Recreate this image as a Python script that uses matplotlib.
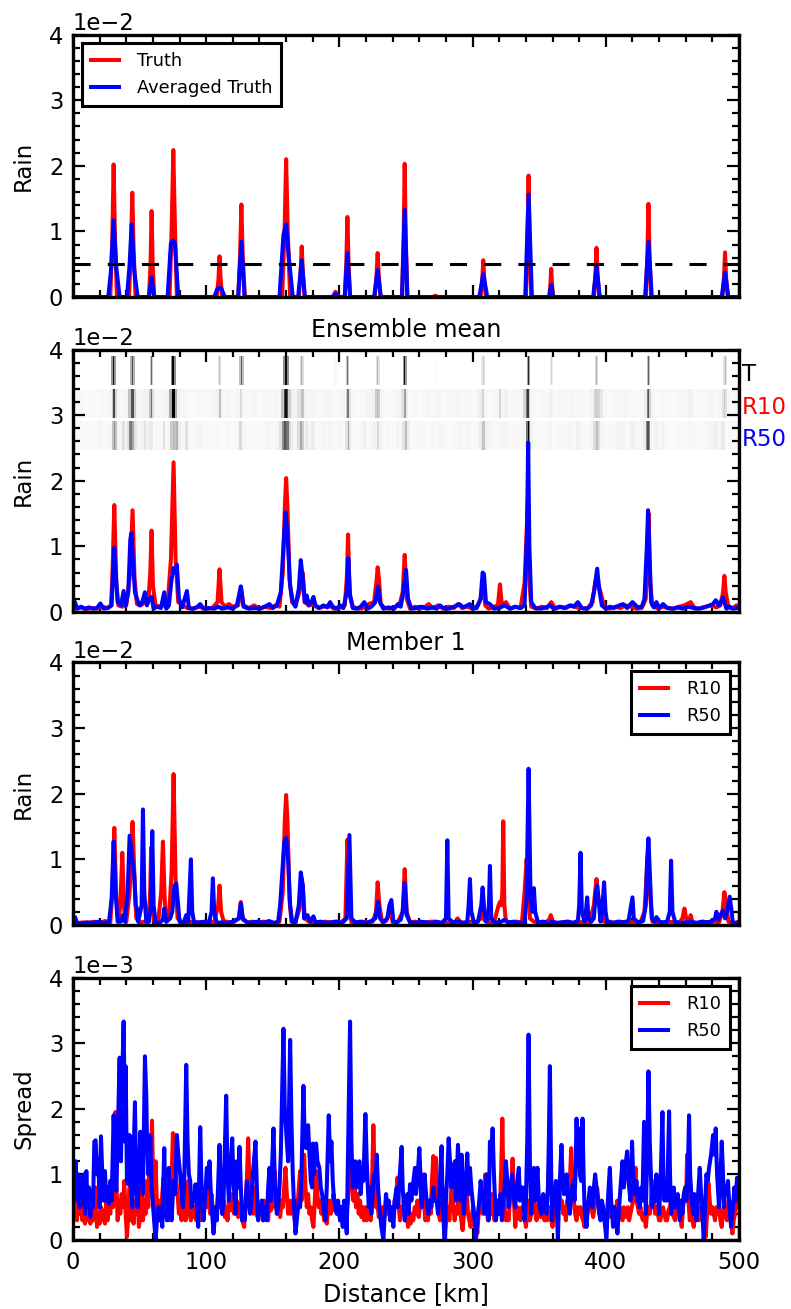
import numpy as np
import matplotlib
matplotlib.use('Agg')
import matplotlib.pyplot as plt
from matplotlib.ticker import MultipleLocator
from matplotlib.colors import PowerNorm

# ---- data (distance km, value) ; rain in units of 1e-2, spread in 1e-3 ----
threshold = 0.5

truth = [
    (0, 0),
    (28, 0), (29.5, 0.9), (30.5, 2.02), (31.5, 0.9), (33, 0),
    (42, 0), (43.5, 0.72), (44.5, 1.59), (45.5, 0.72), (47, 0),
    (57, 0), (58.2, 0.5), (59, 1.31), (59.8, 0.5), (61, 0),
    (72.5, 0), (74, 1.0), (75.3, 2.24), (76.6, 1.0), (78, 0),
    (108, 0), (109.2, 0.28), (110, 0.62), (110.8, 0.28), (112, 0),
    (124, 0), (125.4, 0.63), (126.4, 1.41), (127.4, 0.63), (129, 0),
    (157, 0), (158.8, 1.0), (160, 2.10), (161.2, 1.0), (163, 0),
    (169.5, 0), (170.8, 0.35), (171.7, 0.77), (172.6, 0.35), (174, 0),
    (195, 0), (196, 0.04), (197, 0.08), (198, 0.04), (199, 0),
    (204, 0), (205.2, 0.55), (206, 1.22), (206.8, 0.55), (208, 0),
    (226.5, 0), (227.8, 0.3), (228.7, 0.67), (229.6, 0.3), (231, 0),
    (247, 0), (248.2, 0.9), (249, 2.03), (249.8, 0.9), (251, 0),
    (270, 0), (272, 0.02), (274, 0),
    (306, 0), (307.2, 0.25), (308, 0.56), (308.8, 0.25), (310, 0),
    (340, 0), (341.2, 0.82), (342, 1.85), (342.8, 0.82), (344, 0),
    (357.5, 0), (358.4, 0.2), (359, 0.43), (359.6, 0.2), (360.5, 0),
    (391, 0), (392.2, 0.35), (393, 0.75), (393.8, 0.35), (395, 0),
    (430, 0), (431.2, 0.65), (432, 1.42), (432.8, 0.65), (434, 0),
    (487.5, 0), (488.7, 0.3), (489.5, 0.68), (490.3, 0.3), (491.5, 0),
    (500, 0)]

avg_truth = [
    (0, 0),
    (26.5, 0), (28.5, 0.4), (30.5, 1.17), (32.5, 0.45), (35, 0),
    (40.5, 0), (42.5, 0.5), (44, 1.11), (46, 0.4), (48.5, 0),
    (57, 0), (59, 0.30), (61, 0),
    (71, 0), (73.5, 0.82), (75, 0.86), (76.5, 0.82), (79, 0),
    (106, 0), (108.5, 0.13), (110, 0.14), (111.5, 0.12), (114, 0),
    (124, 0), (126.4, 0.84), (128.8, 0),
    (155, 0), (158, 0.95), (160, 1.11), (162, 0.6), (165, 0),
    (169, 0), (171.7, 0.56), (174, 0),
    (195, 0), (197, 0.05), (199, 0),
    (204, 0), (206, 0.67), (208, 0),
    (226, 0), (228.7, 0.41), (231, 0),
    (247, 0), (249, 1.33), (251, 0),
    (305, 0), (308, 0.35), (311, 0),
    (339.5, 0), (342, 1.56), (344.5, 0),
    (357.5, 0), (359, 0.18), (360.5, 0),
    (390.5, 0), (393, 0.46), (395.5, 0),
    (429.5, 0), (432, 0.84), (434.5, 0),
    (487, 0), (489.5, 0.37), (492, 0),
    (500, 0)]

mean_r10 = [
    (0, 0.08), (3, 0.05), (6, 0.07), (10, 0.04), (14, 0.06), (18, 0.05), (22, 0.08), (26, 0.06), (28.5, 0.1),
    (29.5, 0.5), (31, 1.63), (32.5, 0.45), (34, 0.1), (37, 0.08), (40, 0.1),
    (43, 0.6), (44.7, 1.55), (46.2, 0.5), (48, 0.12), (51, 0.1), (54, 0.15), (56.5, 0.15),
    (58, 0.6), (59, 1.24), (60, 0.4), (62, 0.1), (65, 0.08), (68, 0.1), (71, 0.12), (73.5, 0.8),
    (75.5, 2.28), (77, 0.8), (79, 0.15), (82, 0.1), (86, 0.06), (90, 0.05), (94, 0.08), (98, 0.06),
    (102, 0.05), (105, 0.07), (108.5, 0.15), (110, 0.65), (111.5, 0.15), (114, 0.08), (117, 0.12),
    (120, 0.08), (124, 0.1), (126, 0.38), (128, 0.1), (132, 0.06), (136, 0.1), (140, 0.05), (144, 0.08),
    (148, 0.06), (152, 0.1), (155, 0.08), (157.5, 0.6), (159, 1.6), (160, 2.04), (161, 1.6), (162.5, 0.5),
    (164.5, 0.15), (167, 0.1), (170, 0.3), (172.5, 0.6), (174, 0.15), (177, 0.1), (180, 0.12), (184, 0.06),
    (188, 0.08), (192, 0.1), (196, 0.05), (200, 0.06), (204, 0.1), (205.5, 0.5), (206.5, 1.18), (207.5, 0.3),
    (210, 0.08), (214, 0.05), (218, 0.06), (222, 0.12), (226, 0.15), (228, 0.5), (228.7, 0.68), (229.7, 0.5),
    (231, 0.12), (234, 0.06), (238, 0.05), (242, 0.08), (245, 0.1), (247.5, 0.3), (249, 0.87), (250.5, 0.2),
    (253, 0.05), (257, 0.08), (260, 0.05), (264, 0.07), (267, 0.12), (270, 0.06), (274, 0.1), (278, 0.05),
    (282, 0.08), (286, 0.06), (289, 0.12), (292, 0.06), (296, 0.08), (300, 0.05), (304, 0.1), (306, 0.2),
    (308, 0.45), (309.5, 0.1), (312, 0.05), (316, 0.08), (319, 0.1), (320.5, 0.42), (322, 0.1), (325, 0.15),
    (328, 0.05), (332, 0.08), (336, 0.06), (339, 0.45), (340.5, 1.2), (341.5, 1.7), (342.5, 0.5), (344, 0.08),
    (348, 0.05), (352, 0.08), (356, 0.06), (359, 0.15), (362, 0.05), (366, 0.08), (370, 0.06), (374, 0.1),
    (378, 0.07), (382, 0.06), (386, 0.05), (390, 0.15), (392, 0.45), (393, 0.55), (394, 0.45), (396.7, 0.25),
    (399, 0.07), (403, 0.05), (407, 0.08), (411, 0.06), (415, 0.1), (419, 0.08), (423, 0.05), (427, 0.06),
    (430, 0.2), (431.5, 1.1), (432.2, 1.5), (433, 0.5), (435, 0.1), (439, 0.05), (443, 0.08), (447, 0.06),
    (451, 0.05), (455, 0.08), (459, 0.1), (463.7, 0.15), (467, 0.05), (471, 0.06), (475, 0.08), (479, 0.1),
    (483, 0.07), (486, 0.1), (488, 0.3), (489, 0.55), (490, 0.3), (492, 0.08), (495, 0.05), (498, 0.1),
    (500, 0.06)]

mean_r50 = [
    (0, 0.17), (1.5, 0.15), (3, 0.05), (6, 0.08), (9, 0.05), (12, 0.07), (15, 0.05), (18, 0.06), (20.5, 0.13),
    (23, 0.05), (26, 0.06), (29, 0.1), (30, 0.6), (31, 0.98), (32, 0.6), (33.5, 0.15), (36, 0.1), (38, 0.32),
    (39.5, 0.1), (41.5, 0.3), (43, 1.1), (43.8, 1.2), (45, 0.8), (46.5, 0.3), (48, 0.2), (50, 0.1), (52, 0.15),
    (54, 0.3), (55.5, 0.1), (57, 0.2), (59, 0.23), (60.5, 0.05), (63, 0.08), (66, 0.06), (68.5, 0.3), (70, 0.05),
    (72, 0.1), (74, 0.5), (75.5, 0.67), (76.5, 0.6), (78, 0.72), (79.5, 0.2), (82, 0.07), (85.5, 0.32), (87, 0.06),
    (90, 0.05), (93, 0.07), (95.5, 0.12), (98, 0.05), (102, 0.06), (106, 0.05), (109, 0.08), (112, 0.05),
    (116, 0.07), (120, 0.05), (123, 0.1), (126, 0.39), (128, 0.08), (132, 0.05), (136, 0.06), (140, 0.05),
    (144, 0.08), (147.5, 0.12), (150, 0.06), (153, 0.1), (156, 0.3), (158, 1.0), (159.5, 1.52), (161, 1.2),
    (163, 0.4), (165, 0.15), (167, 0.08), (169.5, 0.35), (171, 0.79), (172.5, 0.5), (174, 0.15), (175.5, 0.25),
    (177, 0.1), (179, 0.15), (180.5, 0.23), (182, 0.1), (185, 0.06), (188, 0.1), (191, 0.07), (193, 0.15),
    (195, 0.08), (198, 0.05), (200.5, 0.1), (203, 0.06), (205.5, 0.3), (206.7, 0.82), (208, 0.25), (210, 0.06),
    (213, 0.05), (216, 0.08), (218.7, 0.15), (221, 0.05), (224, 0.08), (227, 0.15), (229, 0.39), (230.5, 0.15),
    (233, 0.05), (237, 0.07), (241, 0.05), (244, 0.12), (246, 0.08), (248, 0.3), (250, 0.64), (251.5, 0.2),
    (254, 0.05), (258, 0.06), (262, 0.08), (266, 0.05), (270, 0.07), (273, 0.05), (275.5, 0.1), (278, 0.06),
    (282, 0.05), (286, 0.08), (290, 0.12), (293, 0.07), (296, 0.1), (298, 0.12), (300, 0.05), (303, 0.06),
    (306, 0.2), (307.5, 0.6), (308.5, 0.58), (310, 0.15), (313, 0.12), (316, 0.05), (320, 0.06), (324, 0.1),
    (328, 0.05), (332, 0.08), (336, 0.06), (339, 0.1), (340.8, 1.2), (341.7, 2.58), (342.6, 1.0), (344, 0.15),
    (347, 0.06), (351, 0.05), (355, 0.07), (358, 0.1), (361, 0.05), (365, 0.08), (369, 0.06), (373, 0.1),
    (376, 0.08), (379, 0.15), (382, 0.06), (386, 0.05), (389, 0.1), (391.5, 0.35), (393.5, 0.66), (395, 0.35),
    (397, 0.1), (400, 0.05), (403, 0.08), (406, 0.06), (410, 0.1), (413, 0.12), (416, 0.06), (420, 0.15),
    (424, 0.07), (427, 0.08), (429, 0.2), (430.8, 1.0), (431.7, 1.55), (432.6, 1.0), (434, 0.15), (436, 0.07),
    (438, 0.15), (440, 0.06), (443, 0.12), (446, 0.06), (450, 0.05), (454, 0.07), (458, 0.05), (462, 0.08),
    (466, 0.06), (470, 0.05), (474, 0.07), (478, 0.1), (480.5, 0.12), (482.5, 0.18), (485, 0.1), (488, 0.22),
    (490.5, 0.05), (493, 0.08), (496, 0.05), (500, 0.07)]

mem_r10 = [
    (0, 0.05), (4, 0.03), (8, 0.04), (12, 0.03), (16, 0.05), (20, 0.03), (24, 0.06), (28, 0.04), (29.5, 0.5),
    (31, 1.48), (32.5, 0.4), (34, 0.05), (35.5, 0.3), (37, 1.1), (38.5, 0.2), (40, 0.05), (42.5, 0.5),
    (44.7, 1.57), (46, 0.8), (47.5, 0.1), (50, 0.03), (53, 0.05), (56, 0.04), (57.8, 0.4), (58.7, 1.18),
    (59.6, 0.3), (61, 0.05), (64, 0.06), (66.2, 0.5), (67.5, 1.27), (68.8, 0.4), (70, 0.05), (72, 0.1),
    (74, 0.8), (75.5, 2.3), (77, 0.7), (78.5, 0.1), (82, 0.04), (86, 0.03), (90, 0.05), (94, 0.04), (98, 0.03),
    (102, 0.05), (106, 0.04), (109, 0.3), (110, 0.6), (111.2, 0.2), (113, 0.06), (117, 0.04), (121, 0.05),
    (124.5, 0.1), (126, 0.35), (127.5, 0.08), (131, 0.04), (135, 0.05), (139, 0.03), (143, 0.05), (147, 0.04),
    (151, 0.03), (155, 0.05), (157.5, 0.5), (159, 1.6), (160, 1.98), (161, 1.6), (162.5, 0.4), (164, 0.05),
    (167, 0.04), (170, 0.25), (171.5, 0.7), (172.5, 0.6), (174, 0.1), (177, 0.05), (181, 0.04), (185, 0.03),
    (189, 0.05), (193, 0.04), (197, 0.05), (201, 0.03), (204.5, 0.1), (205.5, 0.9), (206, 1.3), (207, 0.3),
    (209, 0.04), (213, 0.03), (217, 0.05), (221, 0.04), (225, 0.05), (227.5, 0.2), (228.7, 0.65), (230, 0.3),
    (232, 0.05), (235, 0.06), (238, 0.22), (240, 0.04), (244, 0.05), (247.5, 0.2), (249, 0.85), (250.5, 0.2),
    (253, 0.04), (257, 0.05), (261, 0.03), (265, 0.04), (269, 0.05), (271.7, 0.05), (275, 0.03), (279, 0.04),
    (283, 0.03), (287, 0.05), (288.7, 0.1), (291, 0.04), (295, 0.03), (299, 0.05), (303, 0.04), (306, 0.1),
    (307, 0.3), (308.5, 0.08), (312, 0.04), (316, 0.03), (319.5, 0.3), (320.5, 0.35), (321.5, 0.3),
    (322.3, 0.5), (323, 1.58), (323.8, 0.3), (325, 0.05), (329, 0.04), (333, 0.05), (337, 0.04), (339, 0.5),
    (340.5, 1.0), (341.5, 0.8), (343, 0.1), (346, 0.05), (350, 0.04), (354, 0.03), (357.5, 0.08),
    (358.7, 0.15), (360, 0.05), (364, 0.03), (368, 0.04), (372, 0.05), (376, 0.03), (380, 0.04), (384, 0.05),
    (388, 0.04), (391, 0.3), (393, 0.7), (394.5, 0.4), (396.7, 0.2), (398.5, 0.05), (403, 0.05), (407, 0.03),
    (410.5, 0.05), (414, 0.04), (418, 0.03), (422, 0.05), (426, 0.04), (429, 0.2), (431, 0.9), (432, 1.1),
    (433, 0.5), (435, 0.05), (439, 0.04), (443, 0.03), (447, 0.05), (451, 0.04), (455, 0.03), (457.5, 0.1),
    (459, 0.25), (460.5, 0.08), (462.5, 0.05), (463.7, 0.15), (465, 0.04), (469, 0.03), (473, 0.05),
    (477, 0.04), (481, 0.05), (485, 0.04), (487.5, 0.2), (489, 0.5), (490.5, 0.3), (492, 0.05), (496, 0.03),
    (500, 0.05)]

mem_r50 = [
    (0, 0.02), (1.5, 0.12), (3, 0.03), (7, 0.02), (11, 0.04), (15, 0.03), (19, 0.05), (23, 0.03), (27, 0.04),
    (29, 0.4), (30.5, 1.27), (32, 0.5), (33.5, 0.05), (36, 0.05), (37.5, 0.15), (39, 0.05), (41, 0.5),
    (42.5, 1.36), (44, 1.1), (46, 0.75), (47, 0.3), (48, 0.25), (49, 0.05), (51.5, 0.3), (52.5, 1.76),
    (53.5, 0.5), (55, 0.05), (57, 0.05), (58.5, 0.3), (59.5, 1.43), (60.5, 0.3), (62, 0.04), (65, 0.03),
    (67.5, 0.08), (68.5, 0.25), (70, 0.05), (73, 0.1), (74.5, 0.2), (76.2, 0.6), (77.5, 0.63), (78.5, 0.4),
    (80, 0.05), (83, 0.03), (85, 0.15), (86.5, 0.05), (88.5, 1.0), (89.5, 0.2), (91, 0.03), (95, 0.04),
    (99, 0.05), (102, 0.03), (104, 0.2), (105, 0.71), (106, 0.2), (108, 0.03), (112, 0.04), (116, 0.03),
    (120, 0.05), (124.5, 0.1), (126, 0.33), (127.5, 0.1), (131, 0.03), (135, 0.04), (139, 0.05), (143, 0.03),
    (147, 0.06), (151, 0.03), (154, 0.05), (155.5, 0.3), (156.8, 0.7), (158.5, 1.25), (160, 1.33),
    (161.5, 1.0), (163, 0.3), (164.5, 0.05), (167, 0.04), (169.5, 0.3), (171, 0.8), (172.5, 0.6),
    (173.5, 0.1), (176, 0.15), (178, 0.05), (180.5, 0.13), (182, 0.04), (186, 0.05), (190, 0.03), (194, 0.04),
    (198, 0.05), (202, 0.03), (205.5, 0.1), (207.5, 1.37), (209, 0.1), (212, 0.04), (216, 0.05), (220, 0.03),
    (224, 0.06), (227, 0.1), (229, 0.35), (230.5, 0.1), (233, 0.04), (236, 0.1), (237.5, 0.3), (239, 0.38),
    (240.5, 0.05), (243, 0.04), (246, 0.08), (247.5, 0.2), (249, 0.64), (250.5, 0.15), (253, 0.04),
    (257, 0.03), (261, 0.05), (265, 0.04), (269, 0.03), (273, 0.05), (277, 0.03), (280, 0.1), (281, 1.29),
    (282, 0.1), (285, 0.04), (289, 0.05), (293, 0.03), (296, 0.05), (297, 0.3), (298, 0.7), (299, 0.2),
    (301, 0.04), (304, 0.05), (306.5, 0.3), (307.5, 0.57), (308.5, 0.3), (310, 0.05), (312, 0.1), (313, 0.9),
    (314, 0.1), (316, 0.05), (320, 0.03), (324, 0.08), (327, 0.04), (331, 0.05), (335, 0.03), (339, 0.04),
    (340.5, 0.4), (342, 2.38), (343.5, 0.4), (345, 0.2), (346, 0.56), (347, 0.2), (349, 0.04), (353, 0.05),
    (357, 0.03), (359, 0.05), (363, 0.03), (367, 0.04), (371, 0.05), (375, 0.03), (379, 0.06), (380, 0.3),
    (381, 1.1), (382, 0.2), (384, 0.05), (385, 0.2), (386, 0.42), (387, 0.1), (389, 0.05), (391, 0.1),
    (392.5, 0.5), (393.5, 0.6), (394.5, 0.4), (396, 0.05), (397.5, 0.3), (398.7, 0.65), (399.8, 0.2),
    (401, 0.05), (405, 0.03), (409, 0.05), (413, 0.04), (417, 0.06), (419, 0.3), (420, 0.42), (421, 0.1),
    (424, 0.04), (428, 0.06), (430, 0.3), (431, 1.0), (432, 1.32), (433, 0.8), (434.5, 0.1), (436.5, 0.05),
    (438, 0.12), (440, 0.05), (443, 0.04), (446, 0.05), (448, 0.2), (449, 0.98), (450, 0.2), (452, 0.05),
    (456, 0.03), (460, 0.04), (464, 0.05), (468, 0.03), (472, 0.05), (476, 0.04), (480, 0.06), (482, 0.1),
    (483, 0.2), (484.5, 0.08), (486, 0.15), (488, 0.22), (489.5, 0.1), (491, 0.2), (493, 0.43), (494.5, 0.2),
    (495.5, 0.0), (498, 0.03), (500, 0.04)]

spread_r10 = [
    (0, 0.55), (1, 0.35), (2, 0.6), (3, 0.3), (4, 0.65), (5, 0.4), (6, 0.55), (7, 0.3), (8, 0.45), (9, 0.25),
    (10, 0.5), (11, 0.3), (12, 0.45), (13, 0.25), (14, 0.4), (15, 0.3), (16, 0.55), (17, 0.8), (18, 0.2),
    (19, 0.4), (20, 0.25), (21, 0.5), (22, 0.3), (23, 0.45), (24, 0.25), (25, 0.6), (26, 0.3), (27, 0.55),
    (28, 0.4), (29, 0.92), (30, 0.5), (31, 1.2), (31.8, 1.95), (32.5, 0.9), (33.5, 0.3), (34.5, 0.6),
    (35.5, 0.4), (36.5, 0.7), (37.5, 0.5), (38.5, 0.9), (39.5, 0.4), (40.5, 0.05), (41.5, 0.4), (42.5, 0.8),
    (43.5, 0.3), (44.5, 0.5), (45.5, 0.25), (46.5, 0.6), (47.5, 0.4), (48.5, 0.6), (49.5, 0.2), (50.5, 0.4),
    (51.5, 0.8), (52.5, 0.3), (53.5, 0.6), (54.5, 0.4), (55.5, 0.9), (56.5, 0.5), (57.5, 1.35), (58.3, 0.9),
    (59.3, 1.82), (60.3, 0.7), (61, 0.4), (62, 1.2), (63, 0.5), (64, 0.3), (65, 0.6), (66, 0.35), (67, 0.7),
    (68, 0.95), (69, 0.4), (70, 0.6), (71, 0.35), (72, 0.3), (73, 0.5), (74, 0.9), (75, 1.63), (75.8, 1.2),
    (76.5, 1.6), (77.5, 0.9), (78.5, 0.7), (79.5, 0.4), (80.5, 0.6), (81.5, 0.3), (82.5, 0.95), (83.5, 0.5),
    (84.5, 0.3), (85.5, 0.6), (86.5, 0.9), (87.5, 0.4), (88.5, 0.3), (89.5, 0.6), (90.5, 0.35), (91.5, 0.5),
    (92.5, 0.3), (93.5, 0.6), (94.5, 0.4), (96, 0.3), (97, 0.5), (98, 0.35), (99, 0.7), (100, 0.5), (101, 1.0),
    (102, 0.6), (103, 0.4), (104, 0.7), (105, 0.45), (106, 0.3), (107, 0.5), (108, 0.4), (109, 0.7),
    (110, 0.5), (111, 0.8), (112, 0.4), (113, 0.6), (114, 0.35), (115, 0.5), (116, 0.3), (117, 0.6),
    (118, 0.7), (119, 0.45), (120, 0.7), (121, 0.4), (122, 0.5), (123, 0.6), (124, 0.35), (125, 0.55),
    (126, 0.5), (127, 0.3), (128.5, 0.2), (129.5, 0.6), (130.5, 0.9), (131.5, 1.55), (132.5, 0.8),
    (133.5, 0.5), (134.5, 0.6), (135.5, 0.4), (136.5, 0.8), (137.5, 0.5), (138.5, 0.35), (139.5, 0.5),
    (140.5, 0.4), (141.5, 0.6), (142.5, 0.3), (143.5, 0.6), (144.5, 0.4), (145.5, 0.5), (146.5, 0.3),
    (147.5, 0.6), (148.5, 0.45), (149.5, 0.5), (150.5, 0.7), (151.5, 1.05), (152.5, 0.5), (153.5, 0.4),
    (154.5, 0.6), (155.5, 0.35), (156.5, 0.6), (157.5, 0.5), (158.5, 0.8), (159.5, 1.1), (160.5, 0.7),
    (161.5, 0.4), (162.5, 0.6), (163.5, 0.4), (164.5, 0.6), (165.5, 0.5), (166.5, 0.3), (167.5, 0.6),
    (168.5, 0.5), (169.5, 0.8), (170.5, 1.05), (171.5, 0.6), (172.5, 0.8), (173.5, 1.3), (174.5, 0.8),
    (175.5, 0.5), (176.5, 0.7), (177.5, 0.4), (178.5, 0.5), (179.5, 0.3), (180.5, 0.2), (181.5, 0.6),
    (182.5, 1.05), (183.5, 0.7), (184.5, 0.5), (185.5, 0.6), (186.5, 0.4), (187.5, 0.5), (188.5, 0.3),
    (189.5, 0.4), (190.5, 0.25), (191.5, 0.5), (192.5, 0.6), (193.5, 0.4), (194.5, 0.5), (195.5, 0.7),
    (196.5, 0.45), (197.5, 0.6), (198.5, 0.4), (199.5, 0.5), (200.5, 0.3), (201.5, 0.5), (202.5, 0.25),
    (203.5, 0.4), (204.5, 0.2), (205.5, 0.4), (206.5, 0.6), (207.5, 0.9), (208.5, 1.45), (209.5, 0.9),
    (210.5, 0.6), (211.5, 0.8), (212.5, 0.5), (213.5, 0.7), (214.5, 0.4), (215.5, 0.6), (216.5, 0.35),
    (217.5, 0.5), (218.5, 0.3), (219.5, 0.5), (220.5, 0.3), (221.5, 0.4), (222.5, 0.5), (223.5, 0.3),
    (224.5, 0.9), (225.5, 1.75), (226.5, 0.9), (227.5, 0.5), (228.5, 0.6), (229.5, 0.35), (230.5, 0.4),
    (231.5, 0.3), (232.5, 0.5), (233.5, 0.3), (234.5, 0.45), (235.5, 0.6), (236.5, 0.4), (237.5, 0.5),
    (238.5, 0.3), (239.5, 0.5), (240.5, 0.35), (241.5, 0.6), (242.5, 0.5), (243.5, 0.95), (244.5, 0.5),
    (245.5, 0.3), (246.5, 0.5), (247.5, 0.4), (248.5, 0.6), (249.5, 0.3), (250.5, 0.4), (251.5, 0.2),
    (252.5, 0.35), (253.5, 0.25), (254.5, 0.4), (255.5, 0.3), (256.5, 0.5), (257.5, 0.4), (258.5, 0.6),
    (259.5, 0.35), (260.5, 0.5), (261.5, 0.7), (262.5, 1.0), (263.5, 0.6), (264.5, 0.3), (265.5, 0.4),
    (266.5, 0.3), (267.5, 0.6), (268.5, 0.4), (269.5, 0.9), (270.5, 1.28), (271.5, 0.7), (272.5, 1.25),
    (273.5, 0.6), (274.5, 0.4), (275.5, 0.3), (276.5, 0.5), (277.5, 0.8), (278.5, 0.3), (279.3, 0.05),
    (280.5, 0.4), (281.5, 0.5), (282.5, 0.3), (283.5, 0.6), (284.5, 0.9), (285.5, 0.5), (286.5, 0.3),
    (287.5, 0.5), (288.5, 0.4), (289.5, 0.8), (290.5, 0.5), (291.5, 0.3), (292.5, 0.15), (293.5, 0.4),
    (294.5, 0.6), (295.5, 0.8), (296.5, 0.4), (297.5, 0.3), (298.5, 0.2), (299.5, 0.4), (300.5, 0.5),
    (301.5, 0.3), (302.5, 0.4), (303.5, 0.1), (304.5, 0.4), (305.5, 0.5), (306.5, 0.6), (307.5, 0.4),
    (308.5, 0.7), (309.5, 1.0), (310.5, 0.5), (311.5, 0.3), (312.5, 0.5), (313.5, 0.4), (314.5, 0.7),
    (315.5, 0.4), (316.5, 0.3), (317.5, 0.5), (318.5, 0.6), (319.5, 0.4), (320.5, 0.5), (321.5, 1.1),
    (322.3, 1.85), (323, 1.0), (324, 0.5), (325, 0.3), (326, 0.4), (327, 0.3), (328, 0.6), (329, 0.7),
    (330, 1.24), (331, 0.6), (332, 0.2), (333, 0.4), (334, 0.5), (335, 0.35), (336, 0.3), (337, 0.5),
    (338, 0.5), (339, 0.35), (340, 0.2), (341, 0.4), (342, 0.6), (343, 0.3), (344, 0.4), (345, 0.5),
    (346, 0.7), (347, 0.4), (348, 0.3), (349, 0.5), (350, 0.6), (351, 0.35), (352, 0.5), (353, 0.4),
    (354, 0.3), (355, 0.5), (356, 0.3), (357, 0.4), (358, 0.5), (359, 0.3), (360, 0.2), (361, 0.4),
    (362, 0.5), (363, 0.4), (364, 0.6), (365, 0.8), (366, 0.5), (367, 0.6), (368, 0.4), (369, 0.5),
    (370, 0.3), (371, 0.6), (372, 0.5), (373, 0.9), (374, 1.4), (375, 0.8), (376, 0.6), (377, 0.4),
    (378, 0.3), (379, 0.5), (380, 0.4), (381, 0.5), (382, 0.35), (383, 0.3), (384, 0.2), (385, 0.4),
    (386, 0.4), (387, 0.5), (388, 0.7), (389, 0.5), (390.5, 0.35), (391.5, 0.5), (392.5, 0.7), (393.5, 0.8),
    (394.5, 0.6), (395.5, 0.4), (396.5, 0.35), (397.5, 0.5), (398.5, 0.4), (399.5, 0.3), (400.5, 0.3),
    (401.5, 0.4), (402.5, 0.5), (403.5, 0.35), (404.5, 0.4), (405.5, 0.3), (406.5, 0.5), (407.5, 0.4),
    (408.5, 0.6), (409.5, 0.35), (410.5, 0.5), (411.5, 0.4), (412.5, 0.3), (413.5, 0.5), (414.5, 0.4),
    (415.5, 0.35), (416.5, 0.5), (417.5, 0.3), (418.5, 0.4), (419.5, 0.5), (420.5, 0.6), (421.5, 0.8),
    (422.3, 1.1), (423, 0.6), (424, 0.5), (425, 0.4), (426, 0.5), (427, 0.35), (428, 0.3), (429, 0.4),
    (430, 0.2), (431, 0.4), (432, 0.5), (433, 0.4), (434, 0.6), (435, 0.9), (436, 0.6), (437, 0.4),
    (438, 0.5), (439, 0.4), (440, 0.3), (441, 0.3), (442, 0.45), (443, 0.5), (444, 0.4), (445, 0.3),
    (446, 0.3), (447, 0.45), (448, 0.5), (449, 0.6), (450, 0.4), (451, 0.35), (452, 0.3), (453, 0.5),
    (454, 0.4), (455, 0.5), (456, 0.35), (457, 0.2), (458, 0.5), (459.5, 0.8), (460.3, 0.6), (461, 1.3),
    (462, 0.6), (463, 0.3), (464, 0.4), (465, 0.3), (466, 0.2), (467, 0.4), (468, 0.5), (469, 0.4),
    (470, 0.3), (471, 0.5), (472, 0.4), (473, 0.6), (474, 0.3), (475, 0.05), (476, 0.4), (477, 0.87),
    (478, 0.6), (479, 0.4), (480, 0.5), (481, 0.4), (482, 0.3), (483, 0.5), (484, 0.4), (485, 0.5),
    (486, 0.3), (487, 0.2), (488, 0.4), (489, 0.6), (490, 0.4), (491, 0.3), (492, 0.45), (493, 0.6),
    (494, 0.3), (495, 0.1), (496, 0.3), (497, 0.4), (498, 0.55), (499, 0.7), (500, 0.5)]

spread_r50 = [
    (0, 1.2), (1, 0.9), (2, 1.2), (3, 0.6), (4, 1.0), (5, 0.5), (6, 0.95), (7, 0.55), (8, 1.0), (9, 0.4),
    (10, 1.05), (11, 0.5), (12, 0.8), (13, 0.35), (14, 0.75), (15, 0.5), (16, 1.5), (17, 1.52), (18, 1.0),
    (19, 1.25), (20, 0.5), (21, 1.58), (22, 1.0), (23, 0.6), (24, 1.05), (25, 0.6), (26, 0.8), (27, 0.55),
    (28, 0.9), (29, 0.6), (30.5, 1.9), (31.5, 1.1), (32.5, 0.75), (33.5, 1.5), (35, 2.78), (36, 1.2),
    (37, 2.5), (38, 3.33), (39, 1.5), (39.5, 2.65), (40.5, 0.9), (41.5, 0.85), (42.5, 1.6), (43.5, 0.9),
    (44.5, 0.5), (46.5, 2.1), (47.5, 0.8), (48.5, 0.5), (49.5, 1.0), (50.5, 1.65), (51.5, 1.2), (52.5, 0.7),
    (54, 2.8), (55, 2.2), (55.5, 1.6), (56.5, 1.0), (58, 1.6), (59, 0.8), (60.5, 0.4), (62, 0.0), (63, 0.3),
    (64, 0.5), (65, 0.3), (66, 0.5), (67, 0.2), (68.5, 1.4), (69.5, 0.5), (70.5, 0.3), (72, 1.1), (73, 0.6),
    (74, 0.3), (75.5, 0.9), (76.5, 0.7), (78, 1.6), (79, 1.3), (80.5, 1.0), (81.5, 0.7), (82.5, 0.5),
    (83.5, 0.9), (85, 2.67), (86, 1.5), (87, 1.0), (88, 0.9), (89, 0.5), (90, 0.7), (91, 0.6), (92, 0.85),
    (93, 0.5), (94, 0.2), (95.5, 1.72), (96.5, 0.8), (98, 0.3), (99, 0.6), (100.5, 1.1), (101.5, 0.8),
    (102.5, 1.2), (103.5, 0.7), (104.5, 0.4), (105.5, 0.1), (107, 0.5), (108, 0.3), (110, 1.45), (111, 0.8),
    (112, 0.4), (113, 0.6), (115, 2.2), (116, 1.0), (117, 0.6), (118, 1.0), (119.5, 1.55), (120.5, 0.9),
    (122, 0.4), (123, 1.2), (124, 0.8), (125, 1.42), (126, 0.8), (127, 0.3), (128, 0.5), (129, 0.3),
    (130.5, 0.9), (131.5, 0.7), (133, 0.4), (134, 0.6), (135, 1.0), (137, 1.5), (138, 0.8), (139, 0.3),
    (140, 0.5), (141, 0.4), (142, 0.6), (143, 0.3), (144, 0.5), (145.5, 0.3), (146.5, 0.8), (147.5, 1.1),
    (148.5, 0.6), (150.5, 1.7), (151.5, 0.9), (153, 0.4), (154, 0.5), (155, 0.8), (156, 1.3), (158, 3.22),
    (159, 2.0), (160.5, 1.5), (161.5, 1.2), (163, 3.05), (164, 1.8), (165, 1.0), (166, 0.5), (167, 0.1),
    (168, 0.3), (169.5, 0.6), (170.5, 0.5), (171.5, 1.0), (173, 2.35), (174, 1.5), (175, 1.4), (176.5, 1.75),
    (177.5, 1.3), (178.5, 0.9), (179.5, 0.8), (180, 1.47), (181, 1.0), (182.5, 1.47), (183.5, 1.2),
    (185, 1.1), (186, 0.8), (187, 0.7), (188, 0.5), (189.5, 0.3), (190.5, 0.8), (192, 1.9), (193, 1.2),
    (194, 1.5), (195, 0.9), (196, 0.6), (197, 0.5), (198, 0.4), (199, 0.6), (200.5, 0.3), (201.5, 0.5),
    (202.5, 0.2), (203.5, 0.6), (204.5, 0.4), (205.5, 0.1), (207, 2.0), (208, 3.33), (209, 1.5), (210, 0.8),
    (211, 1.1), (212, 1.2), (213, 0.8), (214, 1.0), (215, 1.2), (216, 0.7), (217, 1.1), (218, 0.9),
    (219.5, 1.92), (220.5, 1.2), (222, 0.5), (223, 0.8), (224, 0.4), (225, 0.7), (226, 1.0), (227, 0.9),
    (228, 1.3), (229, 0.8), (230.5, 0.4), (231.5, 0.2), (233, 0.0), (234, 0.4), (235, 0.7), (236, 0.5),
    (237, 0.6), (238, 0.3), (239, 0.5), (240.5, 0.2), (241.5, 0.6), (243, 0.8), (244, 0.5), (245, 0.9),
    (246.7, 1.42), (247.5, 0.8), (249, 0.3), (250, 0.5), (251, 0.7), (252, 0.4), (253, 0.85), (254, 0.6),
    (255, 0.8), (256.7, 1.1), (257.5, 0.7), (258.5, 0.9), (260, 1.4), (261, 0.9), (261.7, 0.5), (263, 0.8),
    (264, 1.0), (265, 0.7), (266.7, 0.4), (268, 0.6), (269, 0.5), (270.5, 0.8), (271.5, 0.6), (273, 0.6),
    (274, 0.4), (275, 0.7), (276.7, 1.43), (277.5, 0.5), (279, 0.0), (280, 0.6), (281, 1.0), (282, 1.55),
    (283, 1.2), (284, 0.8), (285.5, 1.1), (286.7, 1.2), (287.5, 0.6), (289, 1.45), (290, 0.9), (291, 0.6),
    (291.7, 1.3), (292.5, 0.8), (293.5, 0.4), (294.5, 0.8), (296, 1.32), (297, 0.7), (298, 1.1), (299, 0.8),
    (300.5, 0.5), (301.5, 0.3), (302.5, 0.0), (303.5, 0.3), (305, 0.6), (306, 0.9), (307, 0.7), (308, 0.6),
    (309, 0.4), (310.5, 1.0), (311.2, 0.6), (312, 0.3), (313, 1.5), (314, 1.2), (315, 1.7), (316, 1.0),
    (317.5, 0.3), (318.5, 0.5), (319, 0.6), (320, 0.4), (321, 0.7), (322, 0.3), (323, 0.6), (324, 0.8),
    (325, 1.2), (326, 0.9), (327, 0.5), (328, 0.7), (329.7, 1.0), (330.5, 0.7), (332, 0.5), (333, 0.8),
    (334.7, 1.1), (335.5, 0.6), (336.5, 0.8), (337.5, 0.8), (339, 0.3), (340, 0.6), (341, 1.5), (342, 3.13),
    (343, 1.2), (344, 0.4), (345, 0.8), (346, 1.1), (347, 0.6), (348.7, 1.1), (349.5, 0.7), (350.5, 0.5),
    (351.7, 0.4), (353, 0.7), (354, 0.5), (355.5, 0.4), (356.5, 0.8), (357.2, 1.5), (358, 2.65), (359, 1.0),
    (359.7, 0.3), (360.5, 0.8), (361.7, 0.6), (362.5, 0.9), (363.5, 0.3), (364, 0.0), (365, 0.7),
    (366.7, 1.45), (367.5, 1.0), (368.5, 0.7), (369.5, 0.8), (370.5, 1.0), (371.5, 0.6), (373, 0.4),
    (374, 0.7), (375.5, 0.9), (376.5, 0.6), (377.2, 1.0), (378, 1.85), (379, 1.2), (379.7, 1.7), (380.5, 1.0),
    (381.5, 0.9), (382.5, 1.85), (383.3, 1.0), (384, 0.5), (385.5, 0.2), (386.5, 0.5), (388, 0.8), (389, 0.6),
    (390, 0.5), (391, 0.8), (392, 1.0), (393, 0.8), (394, 0.6), (395, 0.4), (396, 0.3), (397, 0.6), (398, 0.5),
    (399, 0.3), (400.5, 0.0), (401.5, 0.6), (403, 1.1), (404, 0.6), (405.5, 0.2), (406.5, 0.5), (407.5, 0.4),
    (408.7, 0.1), (410, 0.5), (411, 0.8), (412.5, 1.2), (413.5, 0.8), (414.5, 1.1), (416, 1.35), (417, 0.9),
    (418.5, 0.6), (419.7, 1.5), (420.5, 1.0), (421.5, 0.7), (423, 0.9), (424, 0.6), (425.5, 0.5),
    (426.5, 0.8), (427.5, 0.6), (428.7, 1.8), (430, 0.4), (431, 1.2), (432, 2.57), (433, 1.5), (434.7, 0.5),
    (436, 0.8), (437, 0.6), (438, 1.0), (439, 0.7), (440, 0.4), (441, 0.8), (442.5, 1.95), (443.2, 1.0),
    (444, 0.6), (445, 0.8), (446, 0.6), (447.5, 1.96), (448.2, 1.0), (449, 0.4), (450, 0.6), (451, 0.8),
    (452, 0.5), (453, 0.5), (454, 0.7), (455.5, 0.3), (456.5, 0.6), (457.5, 0.4), (458.5, 0.7), (459.7, 0.8),
    (460.5, 0.6), (461.5, 1.0), (462.5, 1.9), (463.3, 1.0), (464.5, 0.6), (465.5, 0.4), (466.5, 0.7),
    (467.2, 0.4), (468, 0.3), (469, 0.6), (470.5, 1.1), (471.5, 0.7), (472.5, 0.4), (473.5, 0.0),
    (474.5, 0.5), (475.5, 1.0), (476.5, 0.9), (477.5, 1.1), (479, 1.3), (480.5, 1.6), (481.5, 1.3),
    (482.5, 1.7), (483.5, 1.0), (485, 0.5), (486, 0.9), (487, 1.5), (487.8, 1.1), (488.7, 0.5), (489.5, 0.8),
    (490.5, 0.7), (491.7, 0.9), (492.5, 0.6), (494, 0.2), (495.5, 0.5), (496.5, 0.8), (497.5, 0.6),
    (498.5, 0.95), (499.5, 0.6), (500, 0.7)]

# strip rows in panel 2: label, label colour, lower and upper edge (1e-2)
strip_rows = [('T', 'black', 3.46, 3.9), ('R10', 'red', 2.96, 3.4), ('R50', 'blue', 2.47, 2.91)]


def xy(pts):
    a = np.array(pts, dtype=float)
    return a[:, 0], a[:, 1]


plt.rcParams.update({
    'font.family': ['DejaVu Sans'],
    'font.size': 16,
    'axes.linewidth': 2.4,
    'xtick.direction': 'in', 'ytick.direction': 'in',
    'xtick.top': True, 'ytick.right': True,
    'xtick.major.size': 8.5, 'ytick.major.size': 8.5,
    'xtick.minor.size': 5, 'ytick.minor.size': 5,
    'xtick.major.width': 1.6, 'ytick.major.width': 1.6,
    'xtick.minor.width': 1.6, 'ytick.minor.width': 1.6,
    'xtick.major.pad': 8, 'ytick.major.pad': 7,
    'xtick.labelsize': 16.3, 'ytick.labelsize': 16.3,
    'lines.linewidth': 2.9,
    'legend.fontsize': 12.8,
})

fig = plt.figure(figsize=(7.91, 13.09), dpi=100)
left, width, height = 0.0923, 0.842, 0.2005
bottoms = [0.7731, 0.5325, 0.2934, 0.0527]
axes = [fig.add_axes([left, b, width, height]) for b in bottoms]


def style(ax, scale, ylabel, show_x=False):
    ax.set_xlim(0, 500)
    ax.set_ylim(0, 4 * scale)
    ax.xaxis.set_major_locator(MultipleLocator(100))
    ax.xaxis.set_minor_locator(MultipleLocator(20))
    ax.yaxis.set_major_locator(MultipleLocator(scale))
    ax.yaxis.set_minor_locator(MultipleLocator(0.2 * scale))
    ax.ticklabel_format(axis='y', style='sci', scilimits=(0, 0))
    ax.tick_params(which='both', top=True, right=True, labelbottom=show_x)
    ax.set_ylabel(ylabel, fontsize=16.5, labelpad=10)


def legend(ax, loc):
    leg = ax.legend(loc=loc, fancybox=False, framealpha=1, edgecolor='k',
                    handlelength=1.6, handletextpad=1.0, borderpad=0.5)
    leg.get_frame().set_linewidth(2.2)


# panel 1: truth
ax = axes[0]
x, y = xy(truth)
ax.plot(x, y * 1e-2, color='red', label='Truth')
x, y = xy(avg_truth)
ax.plot(x, y * 1e-2, color='blue', label='Averaged Truth')
ax.axhline(threshold * 1e-2, color='k', lw=2.2, ls=(0, (5.6, 5.6)))
style(ax, 1e-2, 'Rain')
legend(ax, 'upper left')

# panel 2: ensemble mean with grey strips
ax = axes[1]
norm = PowerNorm(gamma=0.8, vmin=0, vmax=2.2)
for (label, col, y0, y1), series in zip(strip_rows, [truth, mean_r10, mean_r50]):
    x, v = xy(series)
    # two identical rows; 'nearest' puts the cell edges at y0 and y1
    yc = np.array([0.75 * y0 + 0.25 * y1, 0.25 * y0 + 0.75 * y1]) * 1e-2
    ax.pcolormesh(x, yc, np.vstack([v, v]), cmap='Greys', norm=norm, shading='nearest')
    ax.text(1.004, (y0 + 0.055) * 1e-2, label, color=col, fontsize=16.5,
            ha='left', va='baseline', transform=ax.get_yaxis_transform(), clip_on=False)
x, y = xy(mean_r10)
ax.plot(x, y * 1e-2, color='red')
x, y = xy(mean_r50)
ax.plot(x, y * 1e-2, color='blue')
style(ax, 1e-2, 'Rain')
ax.set_title('Ensemble mean', fontsize=17, pad=9)

# panel 3: member 1
ax = axes[2]
x, y = xy(mem_r10)
ax.plot(x, y * 1e-2, color='red', label='R10')
x, y = xy(mem_r50)
ax.plot(x, y * 1e-2, color='blue', label='R50')
style(ax, 1e-2, 'Rain')
ax.set_title('Member 1', fontsize=17, pad=9)
legend(ax, 'upper right')

# panel 4: spread
ax = axes[3]
x, y = xy(spread_r10)
ax.plot(x, y * 1e-3, color='red', label='R10')
x, y = xy(spread_r50)
ax.plot(x, y * 1e-3, color='blue', label='R50')
style(ax, 1e-3, 'Spread', show_x=True)
ax.set_xlabel('Distance [km]', fontsize=17, labelpad=6)
legend(ax, 'upper right')

fig.savefig('out.png', dpi=100)
